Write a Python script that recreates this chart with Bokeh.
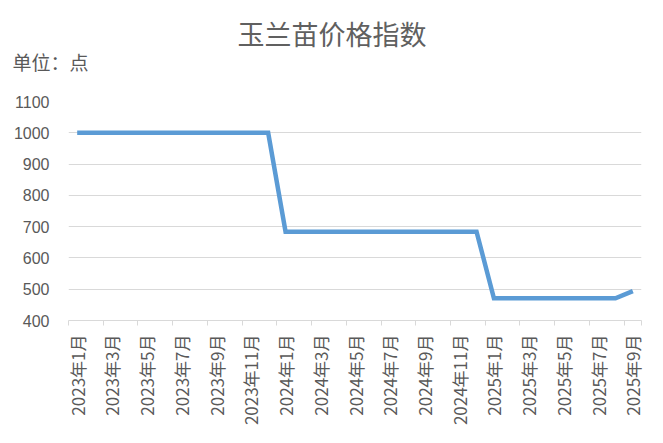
from bokeh.models import ColumnDataSource, FixedTicker, Title, Range1d
from bokeh.plotting import figure
from bokeh.embed import file_html
from bokeh.resources import INLINE

# data
months = ["2023年%d月" % m for m in range(1, 13)] + \
         ["2024年%d月" % m for m in range(1, 13)] + \
         ["2025年%d月" % m for m in range(1, 10)]
index_2023 = [1000] * 12
index_2024 = [684] * 12
index_2025 = [471, 471, 471, 471, 471, 471, 471, 471, 494]
values = index_2023 + index_2024 + index_2025
y_ticks = [400, 500, 600, 700, 800, 900, 1000, 1100]

xs = list(range(len(months)))
source = ColumnDataSource(data=dict(x=xs, y=values, month=months))

grey = "#595959"
light = "#d9d9d9"
cjk = "Noto Sans CJK SC"

p = figure(width=655, height=435, output_backend="svg", toolbar_location=None,
           x_range=Range1d(-0.5, len(months) - 0.5), y_range=Range1d(400, 1100),
           min_border_left=68, min_border_right=14, min_border_top=101, min_border_bottom=115)
p.outline_line_color = None
p.background_fill_color = "white"

p.line("x", "y", source=source, line_color="#5b9bd5", line_width=4.5, line_join="miter")

# titles (first added sits closest to the plot)
p.add_layout(Title(text="单位：点", align="left", text_font=cjk, text_font_size="19px",
                   text_color=grey, text_font_style="normal", offset=-56, standoff=53), "above")
p.add_layout(Title(text="玉兰苗价格指数", align="left", offset=169, text_font=cjk,
                   text_font_size="27px", text_color="#606060", text_font_style="normal",
                   standoff=-67), "above")

# x axis: labels on every other month, tick marks between categories
even = xs[::2]
p.xaxis.ticker = FixedTicker(ticks=even, minor_ticks=[i - 0.5 for i in even] + [len(months) - 0.5])
p.xaxis.major_label_overrides = {i: months[i] for i in even}
p.xaxis.major_label_orientation = 3.14159265 / 2
p.xaxis.major_label_text_font = cjk
p.xaxis.major_label_text_font_size = "17px"
p.xaxis.major_label_text_color = grey
p.xaxis.major_label_standoff = 8
p.xaxis.axis_line_color = light
p.xaxis.major_tick_line_color = None
p.xaxis.minor_tick_line_color = light
p.xaxis.minor_tick_out = 5
p.xaxis.minor_tick_in = 0
p.xgrid.grid_line_color = None

# y axis
p.yaxis.ticker = FixedTicker(ticks=y_ticks)
p.yaxis.axis_line_color = None
p.yaxis.major_tick_line_color = None
p.yaxis.minor_tick_line_color = None
p.yaxis.major_label_text_font = "Liberation Sans"
p.yaxis.major_label_text_font_size = "16px"
p.yaxis.major_label_text_color = grey
p.yaxis.major_label_standoff = 13
p.ygrid.grid_line_color = light
p.ygrid.grid_line_width = 1.2

open("out.html", "w").write(file_html(p, INLINE))
